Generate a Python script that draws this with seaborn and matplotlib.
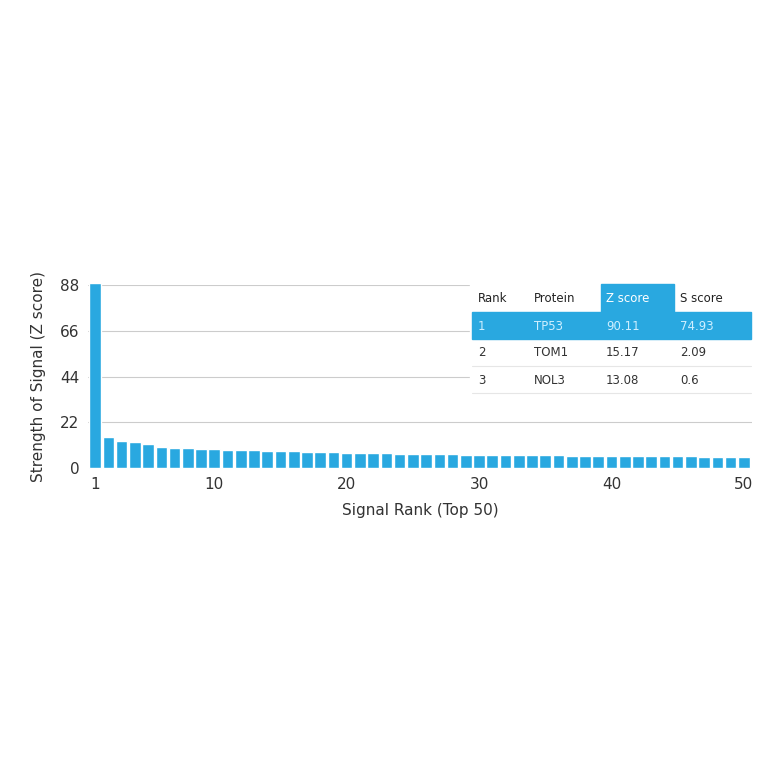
import matplotlib
matplotlib.use("Agg")
import matplotlib.pyplot as plt
import seaborn as sns
import pandas as pd

ranks = list(range(1, 51))
zscores = [89.0, 15.17, 13.08, 12.5, 11.5, 10.2, 9.8, 9.6, 9.4, 9.2,
           9.0, 8.8, 8.6, 8.4, 8.3, 8.1, 7.9, 7.7, 7.6, 7.5,
           7.4, 7.3, 7.2, 7.1, 7.0, 6.9, 6.8, 6.7, 6.6, 6.5,
           6.45, 6.4, 6.35, 6.3, 6.25, 6.2, 6.15, 6.1, 6.05, 6.0,
           5.95, 5.9, 5.85, 5.8, 5.75, 5.7, 5.65, 5.6, 5.55, 5.5]
yticks = [0, 22, 44, 66, 88]
xtick_labels = [1, 10, 20, 30, 40, 50]
table_cols = ["Rank", "Protein", "Z score", "S score"]
table_rows = [["1", "TP53", "90.11", "74.93"],
              ["2", "TOM1", "15.17", "2.09"],
              ["3", "NOL3", "13.08", "0.6"]]

blue = "#29a8e0"
sns.set_style("white")
plt.rcParams['font.family'] = ['DejaVu Sans']
fig = plt.figure(figsize=(7.64, 7.64), dpi=100)
ax = fig.add_axes([0.115, 0.387, 0.869, 0.24])
df = pd.DataFrame({"rank": ranks, "z": zscores})
sns.barplot(data=df, x="rank", y="z", color=blue, saturation=1, width=0.88, ax=ax, clip_on=False)
for p in ax.patches:
    p.set_clip_on(False)
ax.set_ylim(0, 88)
ax.set_xlim(-0.55, 49.6)
ax.set_yticks(yticks)
ax.set_xticks([r - 1 for r in xtick_labels])
ax.set_xticklabels([str(v) for v in xtick_labels])
ax.tick_params(length=0, labelsize=11, colors="#333333", pad=6)
for y in yticks[1:]:
    ax.axhline(y, color="#cccccc", lw=0.8, zorder=0)
for s in ax.spines.values():
    s.set_visible(False)
ax.set_xlabel("Signal Rank (Top 50)", fontsize=11, color="#333333", labelpad=8)
ax.set_ylabel("Strength of Signal (Z score)", fontsize=11, color="#333333", labelpad=10)

# table
def fx(px): return px / 764
def fy(py): return 1 - py / 764
fig.patches.append(plt.Rectangle((fx(470), fy(394)), fx(282), fy(284) - fy(394),
                                 transform=fig.transFigure, color="white", zorder=5))
fig.patches.append(plt.Rectangle((fx(601), fy(312)), fx(73), fy(284) - fy(312),
                                 transform=fig.transFigure, color=blue, zorder=6))
fig.patches.append(plt.Rectangle((fx(472), fy(339)), fx(279), fy(312) - fy(339),
                                 transform=fig.transFigure, color=blue, zorder=6))
for yy in [366, 393]:
    fig.add_artist(plt.Line2D([fx(472), fx(751)], [fy(yy), fy(yy)], transform=fig.transFigure,
                              color="#e6e6e6", lw=0.8, zorder=6))
colx = [478, 534, 606, 680]
rowy = [299, 326, 353, 380]
for j, c in enumerate(table_cols):
    fig.text(fx(colx[j]), fy(rowy[0]), c, fontsize=8.5, fontweight="bold" if False else "normal",
             color="white" if j == 2 else "#222222", va="center", zorder=7)
for i, row in enumerate(table_rows):
    for j, v in enumerate(row):
        fig.text(fx(colx[j]), fy(rowy[i + 1]), v, fontsize=8.5,
                 color="#cfefff" if i == 0 else "#333333", va="center", zorder=7)
fig.savefig("out.png", dpi=100, facecolor="white")
